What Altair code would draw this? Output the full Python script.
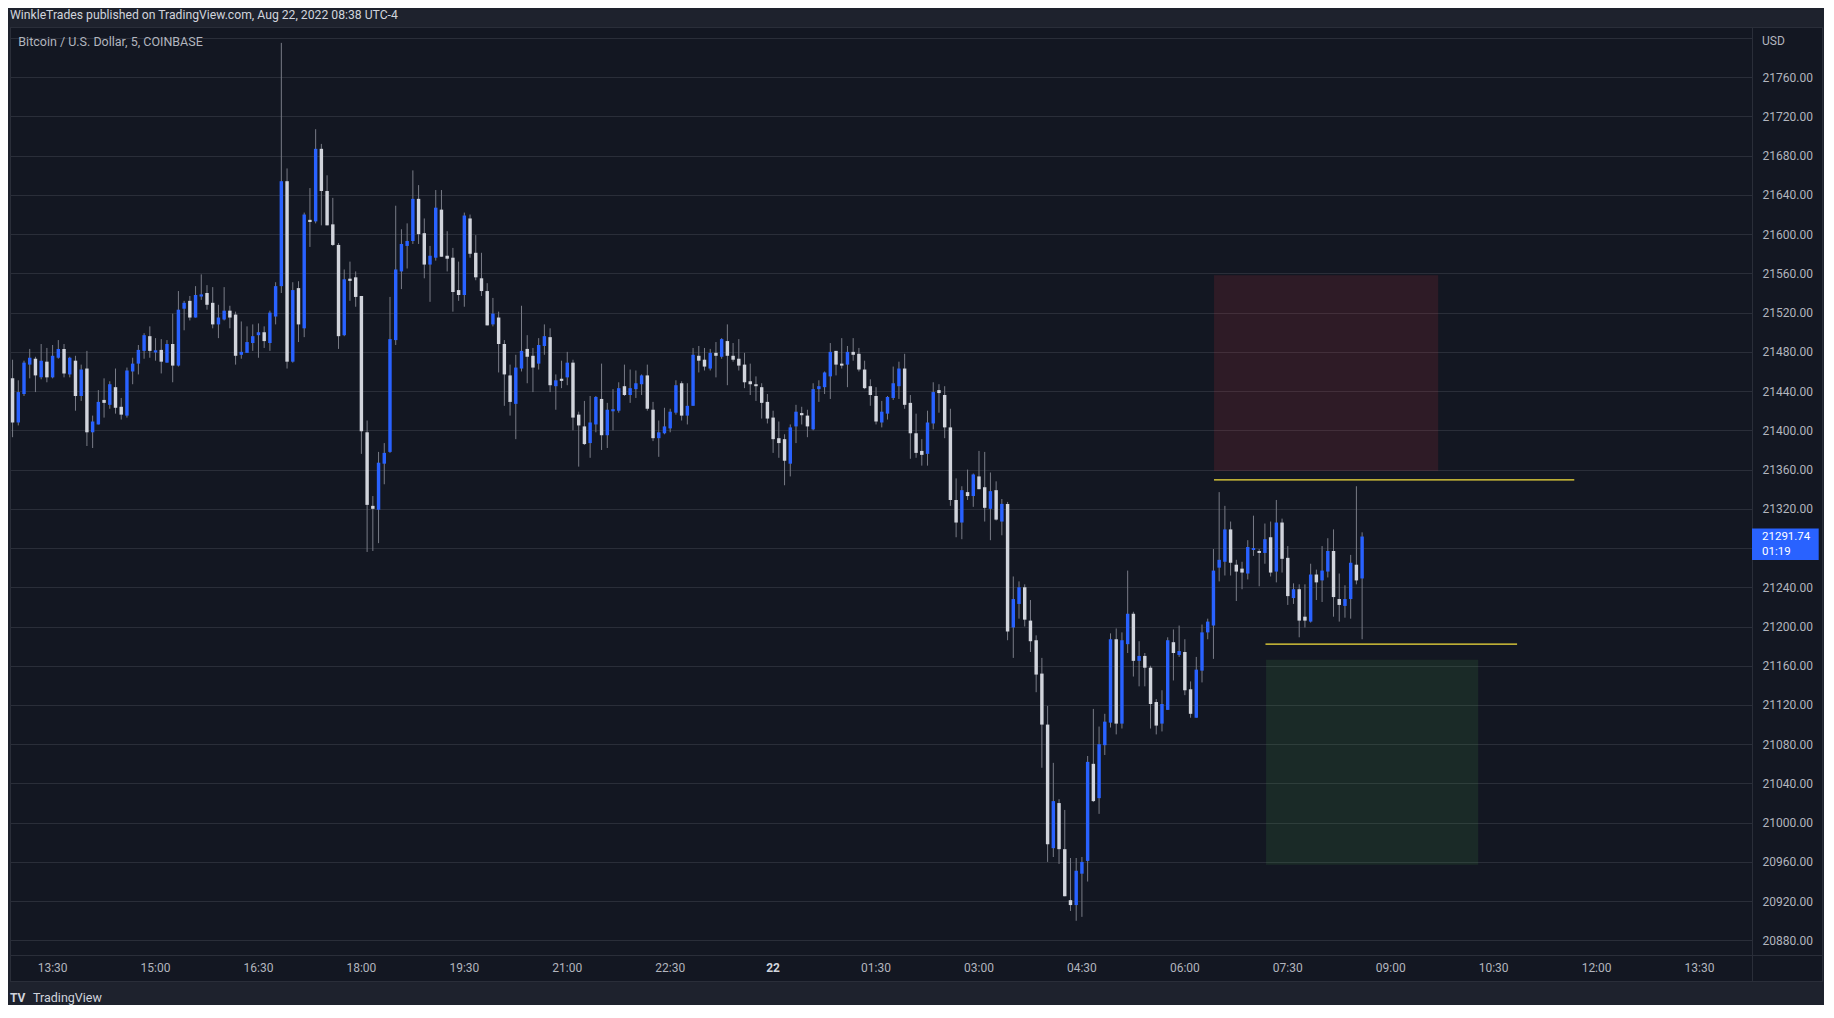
import altair as alt
import pandas as pd

# ---------------- data ----------------
opens = [21453, 21408, 21437, 21467, 21473, 21454, 21470, 21454, 21474, 21483,
         21457, 21471, 21435, 21463, 21398, 21406, 21431, 21426, 21444, 21424,
         21415, 21460, 21468, 21481, 21496, 21480, 21482, 21469, 21488, 21466,
         21524, 21532, 21515, 21537, 21540, 21530, 21508, 21513, 21522, 21518,
         21477, 21479, 21489, 21497, 21500, 21489, 21516, 21547, 21654, 21470,
         21545, 21504, 21614, 21613, 21687, 21644, 21610, 21589, 21497, 21554,
         21556, 21537, 21398, 21323, 21319, 21366, 21378, 21492, 21562, 21588,
         21593, 21636, 21601, 21569, 21576, 21625, 21578, 21576, 21543, 21538,
         21616, 21581, 21555, 21542, 21508, 21515, 21488, 21456, 21427, 21463,
         21483, 21476, 21468, 21486, 21495, 21445, 21452, 21454, 21469, 21416,
         21404, 21387, 21406, 21432, 21395, 21420, 21420, 21445, 21436, 21442,
         21447, 21456, 21421, 21392, 21397, 21402, 21418, 21448, 21415, 21425,
         21476, 21472, 21463, 21479, 21475, 21491, 21476, 21473, 21467, 21450,
         21447, 21444, 21429, 21413, 21392, 21391, 21366, 21404, 21417, 21415,
         21401, 21442, 21444, 21455, 21481, 21468, 21467, 21480, 21478, 21462,
         21445, 21435, 21408, 21417, 21433, 21445, 21463, 21428, 21397, 21379,
         21376, 21407, 21441, 21436, 21403, 21329, 21306, 21337, 21333, 21353,
         21342, 21320, 21339, 21307, 21325, 21199, 21223, 21240, 21206, 21186,
         21152, 21100, 20974, 21020, 20973, 20921, 20916, 20948, 20961, 21060,
         21025, 21079, 21102, 21187, 21101, 21182, 21213, 21165, 21170, 21158,
         21123, 21101, 21115, 21184, 21171, 21174, 21136, 21107, 21155, 21194,
         21201, 21260, 21266, 21299, 21263, 21259, 21254, 21278, 21277, 21275,
         21291, 21256, 21306, 21270, 21229, 21238, 21210, 21205, 21253, 21247,
         21256, 21277, 21228, 21221, 21228, 21263, 21249]
highs = [21472, 21451, 21471, 21483, 21475, 21488, 21484, 21487, 21492, 21488,
         21475, 21476, 21467, 21481, 21415, 21441, 21453, 21450, 21463, 21433,
         21464, 21474, 21487, 21499, 21506, 21494, 21493, 21492, 21519, 21542,
         21532, 21537, 21547, 21559, 21548, 21546, 21528, 21546, 21527, 21521,
         21511, 21506, 21508, 21509, 21506, 21522, 21551, 21795, 21667, 21551,
         21552, 21622, 21647, 21707, 21692, 21660, 21637, 21591, 21564, 21572,
         21562, 21537, 21410, 21333, 21378, 21387, 21536, 21629, 21605, 21611,
         21665, 21650, 21616, 21588, 21645, 21645, 21603, 21586, 21572, 21622,
         21620, 21599, 21581, 21550, 21535, 21521, 21492, 21467, 21477, 21527,
         21497, 21484, 21494, 21508, 21504, 21457, 21471, 21480, 21472, 21419,
         21430, 21435, 21435, 21468, 21428, 21442, 21449, 21467, 21462, 21461,
         21457, 21467, 21429, 21410, 21423, 21422, 21451, 21450, 21448, 21484,
         21486, 21484, 21483, 21490, 21494, 21508, 21489, 21493, 21479, 21468,
         21455, 21448, 21437, 21420, 21409, 21396, 21406, 21426, 21424, 21421,
         21448, 21451, 21460, 21489, 21481, 21494, 21486, 21494, 21484, 21471,
         21452, 21444, 21430, 21435, 21465, 21470, 21478, 21436, 21417, 21391,
         21420, 21449, 21447, 21445, 21422, 21351, 21343, 21360, 21356, 21379,
         21378, 21357, 21348, 21330, 21327, 21251, 21246, 21243, 21227, 21191,
         21168, 21119, 21061, 21024, 21013, 20964, 20964, 20965, 21068, 21116,
         21098, 21111, 21193, 21198, 21194, 21257, 21215, 21185, 21173, 21160,
         21126, 21135, 21189, 21197, 21201, 21187, 21144, 21169, 21202, 21208,
         21279, 21337, 21323, 21307, 21268, 21266, 21288, 21313, 21279, 21305,
         21307, 21329, 21310, 21282, 21244, 21243, 21243, 21264, 21258, 21282,
         21290, 21299, 21254, 21242, 21273, 21343, 21296]
lows = [21393, 21405, 21435, 21453, 21439, 21452, 21449, 21453, 21473, 21454,
        21454, 21420, 21430, 21384, 21382, 21406, 21413, 21422, 21417, 21411,
        21413, 21447, 21457, 21473, 21474, 21471, 21458, 21469, 21449, 21465,
        21502, 21512, 21515, 21533, 21523, 21504, 21494, 21512, 21504, 21467,
        21473, 21479, 21481, 21474, 21484, 21481, 21508, 21540, 21463, 21469,
        21490, 21495, 21587, 21611, 21609, 21609, 21588, 21483, 21496, 21532,
        21526, 21376, 21276, 21277, 21285, 21345, 21377, 21487, 21544, 21565,
        21590, 21590, 21555, 21531, 21573, 21577, 21562, 21521, 21532, 21526,
        21576, 21553, 21537, 21507, 21506, 21459, 21425, 21415, 21391, 21460,
        21448, 21439, 21462, 21477, 21439, 21421, 21443, 21446, 21400, 21363,
        21385, 21372, 21398, 21380, 21382, 21400, 21418, 21435, 21428, 21433,
        21436, 21420, 21389, 21373, 21396, 21398, 21416, 21410, 21406, 21425,
        21459, 21461, 21461, 21454, 21473, 21446, 21470, 21461, 21443, 21436,
        21430, 21412, 21407, 21377, 21372, 21344, 21353, 21387, 21406, 21393,
        21400, 21429, 21437, 21432, 21456, 21463, 21444, 21471, 21460, 21442,
        21425, 21406, 21403, 21411, 21431, 21432, 21422, 21371, 21372, 21364,
        21364, 21401, 21418, 21392, 21323, 21291, 21289, 21329, 21322, 21340,
        21307, 21288, 21308, 21293, 21186, 21168, 21208, 21200, 21174, 21133,
        21056, 20960, 20965, 20958, 20925, 20910, 20900, 20904, 20940, 21021,
        21009, 21069, 21097, 21090, 21096, 21173, 21149, 21139, 21139, 21096,
        21090, 21093, 21115, 21145, 21169, 21130, 21107, 21107, 21143, 21187,
        21167, 21246, 21252, 21252, 21226, 21238, 21248, 21272, 21241, 21264,
        21251, 21245, 21255, 21222, 21223, 21189, 21199, 21204, 21227, 21225,
        21250, 21210, 21205, 21209, 21208, 21243, 21187]
closes = [21408, 21439, 21469, 21474, 21456, 21471, 21454, 21476, 21483, 21458,
          21474, 21435, 21462, 21398, 21409, 21429, 21428, 21447, 21423, 21416,
          21461, 21468, 21482, 21497, 21481, 21481, 21470, 21488, 21466, 21523,
          21530, 21515, 21538, 21538, 21528, 21508, 21515, 21522, 21515, 21476,
          21480, 21490, 21496, 21500, 21491, 21520, 21547, 21654, 21470, 21543,
          21508, 21620, 21613, 21687, 21644, 21609, 21589, 21496, 21554, 21553,
          21536, 21399, 21324, 21320, 21367, 21377, 21493, 21564, 21590, 21593,
          21636, 21600, 21569, 21578, 21627, 21577, 21575, 21541, 21538, 21619,
          21580, 21556, 21542, 21507, 21519, 21488, 21457, 21429, 21464, 21481,
          21475, 21464, 21487, 21496, 21446, 21451, 21451, 21469, 21413, 21405,
          21386, 21408, 21434, 21395, 21421, 21421, 21443, 21436, 21443, 21448,
          21456, 21422, 21392, 21398, 21404, 21419, 21446, 21415, 21425, 21477,
          21471, 21465, 21479, 21476, 21493, 21476, 21472, 21466, 21449, 21447,
          21445, 21428, 21412, 21391, 21387, 21369, 21403, 21419, 21416, 21404,
          21442, 21445, 21459, 21480, 21467, 21466, 21480, 21477, 21462, 21443,
          21436, 21409, 21419, 21434, 21448, 21463, 21426, 21397, 21377, 21375,
          21408, 21439, 21438, 21403, 21329, 21306, 21339, 21333, 21355, 21340,
          21321, 21338, 21309, 21325, 21195, 21228, 21240, 21207, 21185, 21151,
          21100, 20978, 21022, 20973, 20925, 20916, 20951, 20960, 21062, 21022,
          21080, 21103, 21187, 21101, 21186, 21213, 21165, 21170, 21158, 21121,
          21099, 21121, 21186, 21173, 21175, 21135, 21111, 21156, 21194, 21205,
          21257, 21268, 21299, 21265, 21256, 21255, 21281, 21280, 21275, 21289,
          21255, 21306, 21269, 21231, 21238, 21206, 21206, 21253, 21245, 21257,
          21277, 21230, 21222, 21228, 21265, 21247, 21291.74]

first_bar = "12:55"            # time of bar 0, 5-minute bars
last_price = 21291.74
countdown = "01:19"

tick_index = [7, 25, 43, 61, 79, 97, 115, 133, 151, 169, 187, 205, 223, 241, 259, 277, 295]
tick_labels = ["13:30", "15:00", "16:30", "18:00", "19:30", "21:00", "22:30", "22",
               "01:30", "03:00", "04:30", "06:00", "07:30", "09:00", "10:30", "12:00", "13:30"]
price_ticks = [20880, 20920, 20960, 21000, 21040, 21080, 21120, 21160, 21200, 21240,
               21280, 21320, 21360, 21400, 21440, 21480, 21520, 21560, 21600, 21640,
               21680, 21720, 21760, 21800]
hidden_price_labels = [21280, 21800]   # covered by the price tag / the "USD" caption

# position tool drawing (bar index / price)
stop_box = {"i0": 210.1, "i1": 249.3, "p0": 21358.5, "p1": 21558}
target_box = {"i0": 219.2, "i1": 256.3, "p0": 20957, "p1": 21166}
level_lines = {"i0": [210.1, 219.1], "i1": [273.1, 263.1], "p": [21349.5, 21182]}

title_text = "WinkleTrades published on TradingView.com, Aug 22, 2022 08:38 UTC-4"
symbol_text = "Bitcoin / U.S. Dollar, 5, COINBASE"

# ---------------- styling ----------------
FONT = "Roboto"
BG = "#131722"
FRAME = "#1e222d"
BORDER = "#2a2e39"
UP = "#2962ff"
DOWN = "#d1d4dc"
WICK = "#787b86"
TEXT = "#b2b5be"
W, H = 1742, 928

n = len(opens)
df = pd.DataFrame({"i": list(range(n)), "open": opens, "high": highs,
                   "low": lows, "close": closes})
df["up"] = df["close"] >= df["open"]
df["top"] = df[["open", "close"]].max(axis=1)
df["bot"] = df[["open", "close"]].min(axis=1)
flat = (df["top"] - df["bot"]) < 1.2
df.loc[flat, "top"] = df.loc[flat, "top"] + 0.6
df.loc[flat, "bot"] = df.loc[flat, "bot"] - 0.6
df["xl"] = df["i"] - 0.3
df["xr"] = df["i"] + 0.3
df["dir"] = df["up"].map({True: "up", False: "down"})

hide_test = " || ".join(f"datum.value == {v}" for v in hidden_price_labels)
xsc = alt.Scale(domain=[-0.45, 304.18], nice=False, zero=False)
ysc = alt.Scale(domain=[20865.1, 21811.2], nice=False, zero=False)
yax = alt.Axis(orient="right", values=price_ticks, title=None, ticks=False, domain=False,
               labelPadding=10, labelAlign="left", labelBaseline="middle",
               labelColor=TEXT, labelFont=FONT, labelFontSize=12, labelOverlap=False,
               labelFlush=False,
               labelExpr=f"({hide_test}) ? '' : format(datum.value, '.2f')",
               grid=True, gridColor=BORDER, gridWidth=1)

one = pd.DataFrame({"a": [0]})


def px_rect(x, x2, y, y2, color):
    return alt.Chart(one).mark_rect(color=color).encode(
        x=alt.value(x), x2=alt.value(x2), y=alt.value(y), y2=alt.value(y2))


def px_rule(x, x2, y, y2, color=BORDER):
    return alt.Chart(one).mark_rule(color=color, strokeWidth=1).encode(
        x=alt.value(x), x2=alt.value(x2), y=alt.value(y), y2=alt.value(y2))


def px_text(txt, x, y, color=TEXT, size=12, weight="normal", align="left"):
    return alt.Chart(one).mark_text(text=txt, color=color, font=FONT, fontSize=size,
                                    fontWeight=weight, align=align, baseline="middle").encode(
        x=alt.value(x), y=alt.value(y))


frame = [
    px_rect(-2, 1816, -19, 0, FRAME),
    px_rect(-2, 1816, 955, 990, FRAME),
    px_rect(-2, 0, -19, 990, FRAME),
    px_rect(1813, 1816, -19, 990, FRAME),
    px_rule(0, 1813, 0.5, 0.5),
    px_rule(0, 1813, 928.5, 928.5),
    px_rule(0, 1813, 954.5, 954.5),
    px_rule(0.5, 0.5, 0, 955),
    px_rule(1742.5, 1742.5, 0, 955),
    px_rule(1812.5, 1812.5, 0, 955),
]

boxes = pd.DataFrame({
    "i0": [stop_box["i0"], target_box["i0"]], "i1": [stop_box["i1"], target_box["i1"]],
    "p0": [stop_box["p0"], target_box["p0"]], "p1": [stop_box["p1"], target_box["p1"]],
    "kind": ["stop", "target"]})
box_layer = alt.Chart(boxes).mark_rect(fillOpacity=0.125).encode(
    x=alt.X("i0:Q", scale=xsc, axis=None), x2="i1:Q",
    y=alt.Y("p0:Q", scale=ysc, axis=yax), y2="p1:Q",
    color=alt.Color("kind:N", scale=alt.Scale(domain=["stop", "target"],
                                                range=["#f23645", "#4caf50"]), legend=None))

wicks = alt.Chart(df).mark_rule(color=WICK, strokeWidth=1).encode(
    x=alt.X("i:Q", scale=xsc, axis=None),
    y=alt.Y("low:Q", scale=ysc, axis=yax), y2="high:Q")

bodies = alt.Chart(df).mark_rect().encode(
    x=alt.X("xl:Q", scale=xsc, axis=None), x2="xr:Q",
    y=alt.Y("bot:Q", scale=ysc, axis=yax), y2="top:Q",
    color=alt.Color("dir:N", scale=alt.Scale(domain=["up", "down"], range=[UP, DOWN]),
                    legend=None))

lv = pd.DataFrame(level_lines)
levels = alt.Chart(lv).mark_rule(color="#f5e03c", strokeWidth=1.2).encode(
    x=alt.X("i0:Q", scale=xsc, axis=None), x2="i1:Q",
    y=alt.Y("p:Q", scale=ysc, axis=yax))

ticks_df = pd.DataFrame({"i": tick_index, "label": tick_labels})
normal_ticks = ticks_df[ticks_df["label"] != "22"]
bold_ticks = ticks_df[ticks_df["label"] == "22"]
xlabels = alt.Chart(normal_ticks).mark_text(font=FONT, fontSize=12, color=TEXT,
                                            baseline="middle", align="center").encode(
    x=alt.X("i:Q", scale=xsc, axis=None), y=alt.value(941.3), text="label:N")
xlabels_bold = alt.Chart(bold_ticks).mark_text(font=FONT, fontSize=12, color="#d1d4dc",
                                               fontWeight="bold",
                                               baseline="middle", align="center").encode(
    x=alt.X("i:Q", scale=xsc, axis=None), y=alt.value(941.3), text="label:N")

price_tag = [
    px_rect(1742, 1808.7, 501.5, 533, UP),
    px_text(f"{last_price:.2f}", 1752, 510, color="#ffffff", size=11.5),
    px_text(countdown, 1752, 524.5, color="#ffffff", size=11.5),
]

texts = [
    px_text(title_text, 0, -12, color="#d1d4dc", size=12.2),
    px_text(symbol_text, 8.3, 14.7, color=TEXT, size=12.5),
    px_text("USD", 1752, 13.7, color=TEXT),
    px_text("TV", 0, 970.5, color="#d1d4dc", size=12, weight="bold"),
    px_text("TradingView", 23, 970.8, color="#d1d4dc", size=12.5),
]

chart = alt.layer(*frame, box_layer, wicks, bodies, levels, xlabels, xlabels_bold,
                  *price_tag, *texts).properties(
    width=W, height=H,
    autosize=alt.AutoSizeParams(type="none"),
    padding={"left": 2, "top": 19, "right": 72, "bottom": 50},
    background=BG,
).configure_view(strokeWidth=0).resolve_scale(color="independent")

chart.save("out.html", embed_options={"renderer": "svg", "actions": False})
